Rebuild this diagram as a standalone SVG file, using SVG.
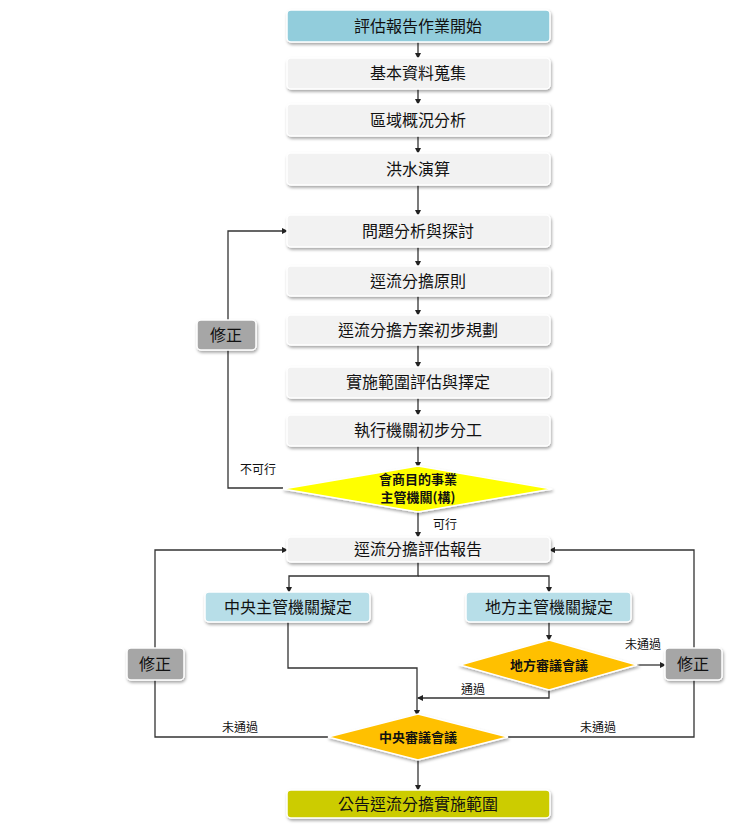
<svg xmlns="http://www.w3.org/2000/svg" width="737" height="828" viewBox="0 0 737 828">
<defs>
<filter id="sh" x="-10%" y="-20%" width="120%" height="150%"><feDropShadow dx="1" dy="2" stdDeviation="1.5" flood-color="#000" flood-opacity="0.35"/></filter>
<marker id="ar" markerWidth="6" markerHeight="6" refX="5" refY="3" orient="auto" markerUnits="userSpaceOnUse"><path d="M0,0 L6,3 L0,6 z" fill="#222"/></marker>
<style>
.b{stroke:#fff;stroke-width:1.5;filter:url(#sh)}
.g{fill:#f2f2f2}.c{fill:#92cddc}.lb{fill:#b7dee8}.gr{fill:#a6a6a6}.y{fill:#ffff00}.o{fill:#ffc000}.ol{fill:#cccc00}
text{font-family:"Noto Sans CJK TC","Noto Sans CJK SC",sans-serif;fill:#111;text-anchor:middle}
.t{font-size:16px}.s{font-size:12px}.d{font-size:13px;font-weight:bold}
.l{fill:none;stroke:#333;stroke-width:1.3}
</style>
</defs>
<rect width="737" height="828" fill="#fff"/>
<g id="connectors" class="l">
<path d="M418,42V58" marker-end="url(#ar)"/>
<path d="M418,89V104" marker-end="url(#ar)"/>
<path d="M418,136V153" marker-end="url(#ar)"/>
<path d="M418,185V215" marker-end="url(#ar)"/>
<path d="M418,247V266" marker-end="url(#ar)"/>
<path d="M418,296V315" marker-end="url(#ar)"/>
<path d="M418,345V367" marker-end="url(#ar)"/>
<path d="M418,398V415" marker-end="url(#ar)"/>
<path d="M418,446V467" marker-end="url(#ar)"/>
<path d="M418,512V537" marker-end="url(#ar)"/>
<path d="M283,488H228V231H287" marker-end="url(#ar)"/>
<path d="M418,562V576H289V592" marker-end="url(#ar)"/>
<path d="M418,576H549V592" marker-end="url(#ar)"/>
<path d="M288,622V668H417V715" marker-end="url(#ar)"/>
<path d="M549,622V640" marker-end="url(#ar)"/>
<path d="M549,690V698H418" marker-end="url(#ar)"/>
<path d="M637,665H665" marker-end="url(#ar)"/>
<path d="M328,737H155V550H287" marker-end="url(#ar)"/>
<path d="M508,737H694V550H550" marker-end="url(#ar)"/>
<path d="M418,760V790" marker-end="url(#ar)"/>
</g>
<g id="n1"><rect class="b c" x="287" y="10" width="263" height="32" rx="4"/><text class="t" x="418" y="32">評估報告作業開始</text></g>
<g id="n2"><rect class="b g" x="287" y="58" width="263" height="31" rx="4"/><text class="t" x="418" y="79">基本資料蒐集</text></g>
<g id="n3"><rect class="b g" x="287" y="104" width="263" height="32" rx="4"/><text class="t" x="418" y="126">區域概況分析</text></g>
<g id="n4"><rect class="b g" x="287" y="153" width="263" height="32" rx="4"/><text class="t" x="418" y="175">洪水演算</text></g>
<g id="n5"><rect class="b g" x="287" y="215" width="263" height="32" rx="4"/><text class="t" x="418" y="237">問題分析與探討</text></g>
<g id="n6"><rect class="b g" x="287" y="266" width="263" height="30" rx="4"/><text class="t" x="418" y="287">逕流分擔原則</text></g>
<g id="n7"><rect class="b g" x="287" y="315" width="263" height="30" rx="4"/><text class="t" x="418" y="336">逕流分擔方案初步規劃</text></g>
<g id="n8"><rect class="b g" x="287" y="367" width="263" height="31" rx="4"/><text class="t" x="418" y="388">實施範圍評估與擇定</text></g>
<g id="n9"><rect class="b g" x="287" y="415" width="263" height="31" rx="4"/><text class="t" x="418" y="436">執行機關初步分工</text></g>
<g id="d1"><polygon class="b y" points="418,466 552,489 418,512 283,489"/><text class="d" x="418" y="484">會商目的事業</text><text class="d" x="418" y="502">主管機關(構)</text></g>
<g id="fix1"><rect class="b gr" x="197" y="320" width="59" height="30" rx="4"/><text class="t" x="226" y="341">修正</text></g>
<g id="n10"><rect class="b g" x="287" y="537" width="263" height="25" rx="4"/><text class="t" x="418" y="555">逕流分擔評估報告</text></g>
<g id="n11"><rect class="b lb" x="205" y="592" width="165" height="30" rx="4"/><text class="t" x="288" y="613">中央主管機關擬定</text></g>
<g id="n12"><rect class="b lb" x="466" y="592" width="165" height="30" rx="4"/><text class="t" x="549" y="613">地方主管機關擬定</text></g>
<g id="d2"><polygon class="b o" points="549,640 637,665 549,690 460,665"/><text class="d" x="549" y="670">地方審議會議</text></g>
<g id="fix2"><rect class="b gr" x="665" y="648" width="57" height="32" rx="4"/><text class="t" x="693" y="670">修正</text></g>
<g id="fix3"><rect class="b gr" x="127" y="648" width="57" height="32" rx="4"/><text class="t" x="155" y="670">修正</text></g>
<g id="d3"><polygon class="b o" points="418,714 508,737 418,760 328,737"/><text class="d" x="418" y="742">中央審議會議</text></g>
<g id="n13"><rect class="b ol" x="287" y="790" width="263" height="28" rx="4"/><text class="t" x="418" y="810">公告逕流分擔實施範圍</text></g>
<g id="labels">
<text class="s" x="258" y="474">不可行</text>
<text class="s" x="445" y="529">可行</text>
<text class="s" x="473" y="694">通過</text>
<text class="s" x="643" y="649">未通過</text>
<text class="s" x="240" y="732">未通過</text>
<text class="s" x="598" y="732">未通過</text>
</g>
</svg>
